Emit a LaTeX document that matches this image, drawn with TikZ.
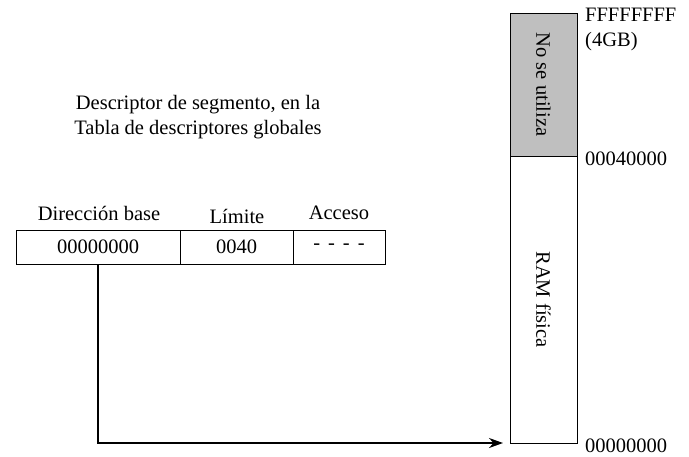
\documentclass[tikz,border=0pt]{standalone}
\usepackage{fontspec}
\setmainfont{Liberation Serif}
\usetikzlibrary{positioning,arrows.meta}
\begin{document}
\begin{tikzpicture}[x=1pt,y=-1pt,font=\fontsize{20.5}{25}\selectfont]
\useasboundingbox (0,0) rectangle (689,456);
\tikzset{cellbox/.style={draw,line width=1pt,minimum height=34pt,inner sep=0pt,outer sep=0pt},
  membox/.style={draw,line width=1pt,minimum width=67pt,inner sep=0pt,outer sep=0pt},
  addr/.style={anchor=west,inner sep=0pt},
  ptr/.style={line width=2pt,-{Stealth[length=14pt,width=10pt]}}}

% descriptor
\node (title) at (198,117) [align=center] {Descriptor de segmento, en la\\Tabla de descriptores globales};
\node (base) at (98,247) [cellbox,minimum width=164pt] {00000000};
\node (lim) at (236.5,247) [cellbox,minimum width=113pt] {0040};
\node (acc) at (339,247) [cellbox,minimum width=92pt] {-\hspace{8pt}-\hspace{8pt}-\hspace{8pt}-};
\node (hbase) at (99,213) {Dirección base};
\node (hlim) at (237,216) {Límite};
\node (hacc) at (339,213) {Acceso};

% memoria
\node (unused) at (543.5,84.5) [membox,minimum height=143pt,fill=black!25] {};
\node (ram) at (543.5,299.5) [membox,minimum height=287pt] {};
\node at (unused) [rotate=-90] {No se utiliza};
\node at (ram) [rotate=-90] {RAM física};

\node (top) at (585,15) [addr] {FFFFFFFF};
\node (gb) at (585,42) [addr] {(4GB)};
\node (mid) at (585,159) [addr] {00040000};
\node (bot) at (585,446) [addr] {00000000};

\coordinate (tip) at (503,443);
\draw [ptr] (base.south) |- (tip);
\end{tikzpicture}
\end{document}
